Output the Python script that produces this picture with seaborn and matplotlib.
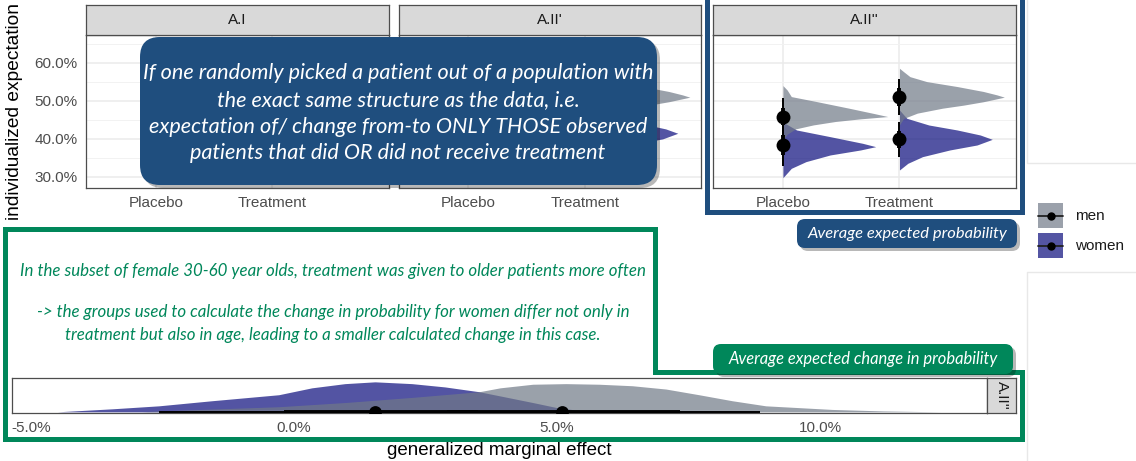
import numpy as np
import pandas as pd
import matplotlib
matplotlib.use("Agg")
import matplotlib.pyplot as plt
import matplotlib.colors as mcolors
import seaborn as sns
from matplotlib.patches import FancyBboxPatch, Polygon, Rectangle
from matplotlib.lines import Line2D

# ---------------- values ----------------
panels = ["A.I", "A.II'", "A.II''"]
conditions = ["Placebo", "Treatment"]
groups = ["men", "women"]

# median expected probability (%), [Placebo, Treatment]
men_median = {"A.I": [45.9, 51.0], "A.II'": [45.9, 51.0], "A.II''": [45.9, 51.0]}
women_median = {"A.I": [38.4, 39.9], "A.II'": [38.4, 41.5], "A.II''": [38.4, 39.9]}

# interval half widths (% points), [Placebo, Treatment]
men_ci95 = [5.0, 4.8]
men_ci66 = [2.3, 2.4]
women_ci95 = [5.5, 4.6]
women_ci66 = [2.7, 2.3]

# slab profiles: offset from the median (% points) and relative density
men_placebo_dy = [8.15, 7.0, 5.25, 3.95, 2.2, 0.85, 0.0, -0.6, -1.3, -2.2, -3.25, -4.65, -6.15]
men_placebo_dens = [0.0, 0.04, 0.08, 0.32, 0.63, 0.86, 1.0, 0.74, 0.50, 0.29, 0.12, 0.04, 0.0]
men_treat_dy = [7.6, 6.7, 5.4, 4.1, 2.8, 1.5, 0.6, 0.0, -1.2, -2.1, -2.9, -4.2, -5.6, -7.3]
men_treat_dens = [0.0, 0.04, 0.10, 0.26, 0.55, 0.80, 0.93, 1.0, 0.80, 0.61, 0.41, 0.17, 0.04, 0.0]
women_placebo_dy = [6.16, 5.72, 3.97, 2.21, 0.46, -0.42, -1.29, -2.61, -4.36, -6.12, -8.58]
women_placebo_dens = [0.0, 0.02, 0.13, 0.45, 0.76, 0.885, 0.74, 0.45, 0.22, 0.08, 0.0]
women_treat_dy = [7.73, 5.54, 3.78, 2.47, 1.15, 0.0, -1.48, -2.79, -4.55, -6.3, -8.06]
women_treat_dens = [0.0, 0.07, 0.28, 0.55, 0.77, 0.885, 0.74, 0.48, 0.22, 0.08, 0.0]

y_ticks = [30, 40, 50, 60]
y_minor = [35, 45, 55, 65]
y_tick_labels = ["30.0%", "40.0%", "50.0%", "60.0%"]

# generalized marginal effect (%), panel A.II''
women_effect_x = [-4.5, -3.46, -2.57, -1.56, -0.29, 0.34, 0.97, 1.54, 2.24, 2.87, 3.52, 3.92, 4.54, 5.0, 5.5, 5.75]
women_effect_dens = [0.0, 0.10, 0.20, 0.37, 0.57, 0.80, 0.94, 1.0, 0.94, 0.83, 0.67, 0.53, 0.31, 0.14, 0.03, 0.0]
men_effect_x = [-2.9, -2.57, -0.29, 0.97, 2.24, 3.52, 3.92, 4.54, 5.17, 5.8, 6.43, 7.07, 7.7, 8.33, 8.97, 10.23, 11.2, 12.3]
men_effect_dens = [0.0, 0.03, 0.17, 0.31, 0.48, 0.67, 0.80, 0.92, 0.94, 0.92, 0.87, 0.76, 0.57, 0.37, 0.20, 0.08, 0.03, 0.0]
effect_median = {"men": 5.09, "women": 1.54}
effect_ci66 = {"men": [2.9, 7.34], "women": [-0.19, 3.5]}
effect_ci95 = {"men": [1.3, 8.86], "women": [-2.57, 5.3]}
x_ticks_bottom = [-5, 0, 5, 10]
x_tick_labels_bottom = ["-5.0%", "0.0%", "5.0%", "10.0%"]

box_lines = [
    "If one randomly picked a patient out of a population with",
    "the exact same structure as the data, i.e.",
    "expectation of/ change from-to ONLY THOSE observed",
    "patients that did OR did not receive treatment",
]
green_lines = [
    "In the subset of female 30-60 year olds, treatment was given to older patients more often",
    "-> the groups used to calculate the change in probability for women differ not only in",
    "treatment but also in age, leading to a smaller calculated change in this case.",
]

# ---------------- style ----------------
MEN = "#707987"
WOMEN = "#0a0c7c"
ALPHA = 0.7
BLUE = "#1f4e7e"
GREEN = "#00875a"
EDGE = "#4d4d4d"
SLAB = 0.9

sns.set_style("white")
plt.rcParams["font.family"] = ["Liberation Sans", "DejaVu Sans"]
NOTE_FONT = "Lato"

W, H = 1136, 461
fig = plt.figure(figsize=(W / 100, H / 100), dpi=100)
fig.patch.set_facecolor("white")


def rect(x0, y0, x1, y1):
    return [x0 / W, 1 - y1 / H, (x1 - x0) / W, (y1 - y0) / H]


def P(x, y):
    return (x / 100, (H - y) / 100)


def strip(box, label, rotation=0):
    sax = fig.add_axes(rect(*box))
    sax.set_facecolor("#d9d9d9")
    sax.set_xticks([])
    sax.set_yticks([])
    for s in sax.spines.values():
        s.set_color(EDGE)
        s.set_linewidth(0.9)
    sax.text(0.5, 0.5, label, ha="center", va="center", fontsize=11,
             color="#1a1a1a", rotation=rotation, transform=sax.transAxes)


profiles = {
    ("men", 0): (men_placebo_dy, men_placebo_dens),
    ("men", 1): (men_treat_dy, men_treat_dens),
    ("women", 0): (women_placebo_dy, women_placebo_dens),
    ("women", 1): (women_treat_dy, women_treat_dens),
}
ci95 = {"men": men_ci95, "women": women_ci95}
ci66 = {"men": men_ci66, "women": women_ci66}
fills = {"men": MEN, "women": WOMEN}

# ---------------- top facets ----------------
panel_left = [86, 398.5, 713]
for i, name in enumerate(panels):
    left = panel_left[i]
    ax = fig.add_axes(rect(left, 35, left + 303, 188))
    medians = {"men": men_median[name], "women": women_median[name]}

    for grp in ["women", "men"]:
        for ci in range(2):
            dy, dens = profiles[(grp, ci)]
            y = medians[grp][ci] + np.array(dy)
            ax.fill_betweenx(y, ci, ci + SLAB * np.array(dens), color=fills[grp],
                             alpha=ALPHA, lw=0, zorder=2)

    for grp in groups:
        for ci in range(2):
            m = medians[grp][ci]
            ax.vlines(ci, m - ci95[grp][ci], m + ci95[grp][ci], color="black", lw=1.4, zorder=3)
            ax.vlines(ci, m - ci66[grp][ci], m + ci66[grp][ci], color="black", lw=2.8, zorder=3)

    pts = pd.DataFrame({"x": [0, 1, 0, 1],
                        "y": men_median[name] + women_median[name]})
    sns.scatterplot(data=pts, x="x", y="y", color="black", s=100, linewidth=0,
                    ax=ax, zorder=4)
    ax.set_xlabel("")
    ax.set_ylabel("")

    ax.set_xlim(-0.6, 2.0)
    ax.set_ylim(27.1, 67.36)
    ax.set_xticks([0, 1])
    ax.set_xticklabels(conditions)
    ax.set_yticks(y_ticks)
    ax.set_yticks(y_minor, minor=True)
    ax.grid(True, which="major", color="#ebebeb", lw=1.1)
    ax.grid(True, which="minor", axis="y", color="#f2f2f2", lw=0.7)
    ax.set_axisbelow(True)
    for s in ax.spines.values():
        s.set_color(EDGE)
        s.set_linewidth(0.9)
    ax.tick_params(axis="x", length=4, width=0.9, color="#333333", pad=2,
                   labelsize=11, labelcolor=EDGE)
    ax.tick_params(which="minor", length=0)
    if i == 0:
        ax.set_yticklabels(y_tick_labels)
        ax.tick_params(axis="y", length=4, width=0.9, color="#333333", pad=2,
                       labelsize=11, labelcolor=EDGE)
    else:
        ax.set_yticklabels([])
        ax.tick_params(axis="y", length=0)

    strip((left, 5, left + 303, 35), name)

# ---------------- bottom facet ----------------
bx = fig.add_axes(rect(12, 378, 987, 413))
bx.fill_between(women_effect_x, 0, SLAB * np.array(women_effect_dens), color=WOMEN,
                alpha=ALPHA, lw=0, zorder=2)
bx.fill_between(men_effect_x, 0, SLAB * np.array(men_effect_dens), color=MEN,
                alpha=ALPHA, lw=0, zorder=2)
for grp in ["women", "men"]:
    bx.hlines(0, *effect_ci95[grp], color="black", lw=1.4, zorder=3)
    bx.hlines(0, *effect_ci66[grp], color="black", lw=2.8, zorder=3)
eff = pd.DataFrame({"x": [effect_median["men"], effect_median["women"]], "y": [0, 0]})
sns.scatterplot(data=eff, x="x", y="y", color="black", s=85, linewidth=0, ax=bx, zorder=4)
bx.set_xlabel("")
bx.set_ylabel("")
bx.set_xlim(-5.361, 13.175)
bx.set_ylim(-0.035, 1.015)
bx.set_xticks(x_ticks_bottom)
bx.set_xticklabels(x_tick_labels_bottom)
bx.set_yticks([])
for s in bx.spines.values():
    s.set_color(EDGE)
    s.set_linewidth(0.9)
bx.tick_params(axis="x", length=4, width=0.9, color="#333333", pad=2,
               labelsize=11, labelcolor=EDGE)
strip((987, 378, 1016, 413), "A.II''", rotation=270)

# axis titles
fig.text(*P(15, 111), "individualized expectation", rotation=90, ha="center",
         va="center", fontsize=13.8, color="black", transform=fig.dpi_scale_trans)
fig.text(*P(499, 450), "generalized marginal effect", ha="center", va="center",
         fontsize=13.5, color="black", transform=fig.dpi_scale_trans)

# ---------------- legend ----------------
def blend(c, a):
    r = np.array(mcolors.to_rgb(c))
    return tuple(a * r + (1 - a))


for k, grp in enumerate(groups):
    y0 = 203 + 30 * k
    fig.add_artist(Rectangle(P(1038, y0 + 25), 0.25, 0.25, transform=fig.dpi_scale_trans,
                             fc=blend(fills[grp], ALPHA), ec="none", zorder=5))
    xs, ys = zip(P(1038, y0 + 12.5), P(1063, y0 + 12.5))
    fig.add_artist(Line2D(xs, ys, transform=fig.dpi_scale_trans, color="#222222", lw=1.3, zorder=6))
    fig.add_artist(Line2D([xs[0] + 0.125], [ys[0]], transform=fig.dpi_scale_trans, marker="o",
                          ms=5, color="black", lw=0, zorder=7))
    fig.text(*P(1075, y0 + 13), grp, ha="left", va="center", fontsize=11, color="#1a1a1a",
             transform=fig.dpi_scale_trans)

# faint edges of the pasted screenshot
for seg in [[(1027, 0), (1027, 163), (1136, 163)], [(1136, 272), (1027, 272), (1027, 461)]]:
    xs, ys = zip(*[P(*p) for p in seg])
    fig.add_artist(Line2D(xs, ys, transform=fig.dpi_scale_trans, color="#e8e8e8", lw=1.0, zorder=5))

# ---------------- annotation layer ----------------
frame_blue = Polygon([P(707, -10), P(707, 212), P(1021.5, 212), P(1021.5, -10)], closed=False,
                     fill=False, ec=BLUE, lw=3.6, joinstyle="miter", transform=fig.dpi_scale_trans,
                     zorder=8)
fig.add_artist(frame_blue)
frame_green = Polygon([P(5, 229), P(655, 229), P(655, 372), P(1022, 372), P(1022, 438.5),
                       P(5, 438.5)], closed=True, fill=False, ec=GREEN, lw=3.6,
                      joinstyle="miter", transform=fig.dpi_scale_trans, zorder=8)
fig.add_artist(frame_green)


def note_box(x0, y0, x1, y1, color, radius):
    for dx, fc, a, z in [(3, "black", 0.28, 9), (0, color, 1.0, 10)]:
        fig.add_artist(FancyBboxPatch(P(x0 + dx, y1 + dx), (x1 - x0) / 100, (y1 - y0) / 100,
                                      boxstyle=f"round,pad=0,rounding_size={radius / 100}",
                                      transform=fig.dpi_scale_trans, fc=fc, ec="none",
                                      alpha=a, zorder=z))


def note(x, y, s, color):
    return fig.text(*P(x, y), s, ha="center", va="center", fontsize=12, color=color,
                    fontfamily=NOTE_FONT, fontstyle="italic", transform=fig.dpi_scale_trans,
                    zorder=11)


def fit(texts, target):
    r = fig.canvas.get_renderer()
    w = texts[0].get_window_extent(r).width
    size = texts[0].get_fontsize() * target / w
    for t in texts:
        t.set_fontsize(size)


note_box(140, 37, 657, 185, BLUE, 20)
big = [note(398, y, s, "white") for y, s in zip([73, 100, 127, 153], box_lines)]
fit(big, 509)

note_box(797, 219, 1017, 248, BLUE, 8)
fit([note(907, 233.5, "Average expected probability", "white")], 199)

note_box(713, 344, 1013, 374, GREEN, 8)
fit([note(863, 359, "Average expected change in probability", "white")], 269)

gl = [note(333, y, s, GREEN) for y, s in zip([271, 312, 335], green_lines)]
fit(gl, 622)

fig.savefig("out.png", dpi=100)
